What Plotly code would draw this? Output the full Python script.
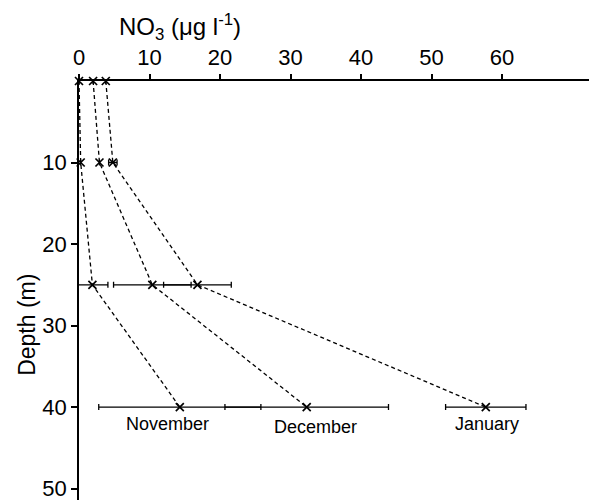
import plotly.graph_objects as go

# Data
depths = [0, 10, 25, 40]
months = ["November", "December", "January"]
nov = [0.0, 0.24, 1.9, 14.3]
dec = [2.0, 2.9, 10.4, 32.3]
jan = [3.8, 4.8, 16.8, 57.7]
nov_err = [0, 0, 2.2, 11.5]
dec_err = [0, 0, 5.5, 11.6]
jan_err = [0, 0.6, 4.8, 5.7]
x_ticks = [0, 10, 20, 30, 40, 50, 60]
y_ticks = [10, 20, 30, 40, 50]

FONT = "Liberation Sans, Arial, Helvetica, sans-serif"

fig = go.Figure()
series = [(nov, nov_err), (dec, dec_err), (jan, jan_err)]
for name, (vals, errs) in zip(months, series):
    fig.add_trace(go.Scatter(
        x=vals, y=depths, name=name, mode="lines+markers",
        line=dict(color="black", width=1.3, dash="4px,3px"),
        marker=dict(symbol="x-thin", size=8, color="black",
                    line=dict(width=1.7, color="black")),
        error_x=dict(type="data", array=errs, symmetric=True,
                     color="black", thickness=1.3, width=3),
        showlegend=False, cliponaxis=False,
    ))

# Month labels under the 40 m points
label_shift = {"November": -12, "December": 9, "January": 1}
label_yshift = {"November": -17, "December": -20, "January": -17}
for name, (vals, _) in zip(months, series):
    fig.add_annotation(
        x=vals[3], y=depths[3], xref="x", yref="y", text=name,
        showarrow=False, xshift=label_shift[name], yshift=label_yshift[name],
        font=dict(family=FONT, size=18, color="black"),
        xanchor="center", yanchor="middle",
    )

# Axis titles
fig.add_annotation(
    x=0.198, y=1.129, xref="paper", yref="paper",
    text="NO<sub>3</sub> (μg l<sup>-1</sup>)", showarrow=False,
    font=dict(family=FONT, size=24, color="black"),
    xanchor="center", yanchor="middle",
)
fig.add_annotation(
    x=-0.102, y=0.418, xref="paper", yref="paper",
    text="Depth (m)", showarrow=False, textangle=-90,
    font=dict(family=FONT, size=23, color="black"),
    xanchor="center", yanchor="middle",
)

fig.update_layout(
    width=589, height=502,
    margin=dict(l=79, r=0, t=81, b=2),
    paper_bgcolor="white", plot_bgcolor="white",
    font=dict(family=FONT, color="black"),
    xaxis=dict(
        side="top", range=[0, 72.34], tickvals=x_ticks,
        showline=True, linecolor="black", linewidth=1.8,
        ticks="outside", ticklen=5, tickwidth=1.5, tickcolor="black",
        showgrid=False, zeroline=False,
        tickfont=dict(family=FONT, size=22, color="black"),
    ),
    yaxis=dict(
        range=[51.4, 0], tickvals=y_ticks,
        showline=True, linecolor="black", linewidth=1.8,
        ticks="outside", ticklen=6, tickwidth=1.5, tickcolor="black",
        showgrid=False, zeroline=False,
        tickfont=dict(family=FONT, size=22, color="black"),
    ),
)

fig.write_html("out.html")
